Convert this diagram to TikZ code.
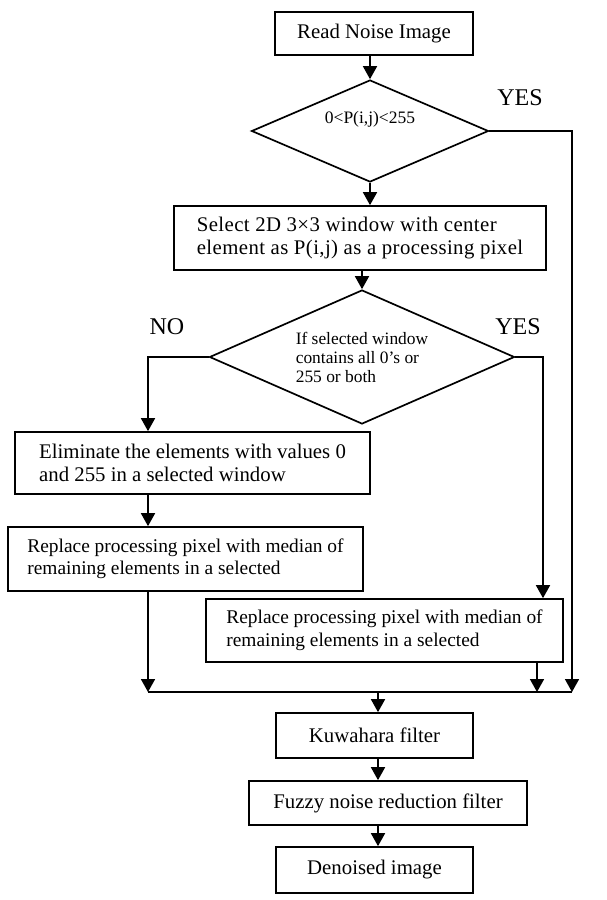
\documentclass[tikz,border=0pt]{standalone}
\usepackage{fontspec}
\setmainfont{Liberation Serif}
\usetikzlibrary{shapes.geometric,arrows.meta}
\begin{document}
\begin{tikzpicture}[x=1pt,y=-1pt,
 box/.style={draw,line width=1.7pt,inner sep=0pt,font=\fontsize{20.8}{22.5}\selectfont},
 dia/.style={draw,diamond,line width=1.7pt,inner sep=0pt},
 arr/.style={line width=1.7pt,-{Triangle[length=13pt,width=14pt]}},
 ln/.style={line width=1.7pt},
 lab/.style={font=\fontsize{24}{26}\selectfont,inner sep=0pt}]
\useasboundingbox (0,0) rectangle (606,900);

% nodes
\node[box,minimum width=198pt,minimum height=43pt] (b1) at (374,33.5) {Read Noise Image};
\node[dia,minimum width=237pt,minimum height=102pt] (d1) at (370,131) {};
\node[font=\fontsize{17.5}{19}\selectfont,inner sep=0pt] (t1) at (370,119) {0<P(i,j)<255};
\node[lab,anchor=base] (yes1) at (520,105) {YES};

\node[box,minimum width=372pt,minimum height=64pt,align=left,
      font={\fontsize{20.8}{22.5}\selectfont\addfontfeature{LetterSpace=1.9}}] (b2) at (360,238)
  {Select 2D 3×3 window with center\\element as P(i,j) as a processing pixel};

\node[dia,aspect=2.28,minimum width=305pt,minimum height=134pt,align=left,
      font=\fontsize{17.4}{19}\selectfont] (d2) at (362,357)
  {If selected window\\contains all 0's or\\255 or both};
\node[lab,anchor=base] (no2) at (167,334) {NO};
\node[lab,anchor=base] (yes2) at (518,334) {YES};

\node[box,minimum width=355pt,minimum height=62pt,align=left] (b3) at (192.5,463)
  {Eliminate the elements with values 0\\and 255 in a selected window};
\node[box,minimum width=355pt,minimum height=64pt,align=left,
      font=\fontsize{19.4}{22.5}\selectfont] (b4) at (185.5,559)
  {Replace processing pixel with median of\\remaining elements in a selected};
\node[box,minimum width=357pt,minimum height=63pt,align=left,
      font=\fontsize{19.4}{22.5}\selectfont] (b5) at (384.5,630.5)
  {Replace processing pixel with median of\\remaining elements in a selected};

\node[box,minimum width=197pt,minimum height=45pt] (b6) at (374.5,735.5) {Kuwahara filter};
\node[box,minimum width=278pt,minimum height=44pt] (b7) at (388,803) {Fuzzy noise reduction filter};
\node[box,minimum width=197pt,minimum height=46pt] (b8) at (374.5,870) {Denoised image};

% junction coordinates
\coordinate (mL) at (148,692);
\coordinate (mR) at (572,692);
\coordinate (mC) at (378,692);
\coordinate (m5) at (537,692);
\coordinate (bendR) at (543,357);

% connectors
\draw[arr] (b1.south -| d1.north) -- (d1.north);
\draw[arr] (d1.east) -- (d1.east -| mR) -- (mR);
\draw[arr] (d1.south) -- (d1.south |- b2.north);
\draw[arr] (d2.north |- b2.south) -- (d2.north);
\draw[arr] (d2.west) -- (d2.west -| mL) -- (mL |- b3.north);
\draw[arr] (d2.east) -- (bendR) -- (bendR |- b5.north);
\draw[arr] (b3.south -| mL) -- (b4.north -| mL);
\draw[arr] (b4.south -| mL) -- (mL);
\draw[arr] (m5 |- b5.south) -- (m5);
\draw[ln] (mL) -- (mR);
\draw[arr] (mC) -- (mC |- b6.north);
\draw[arr] (b6.south -| mC) -- (b7.north -| mC);
\draw[arr] (b7.south -| mC) -- (b8.north -| mC);
\end{tikzpicture}
\end{document}
